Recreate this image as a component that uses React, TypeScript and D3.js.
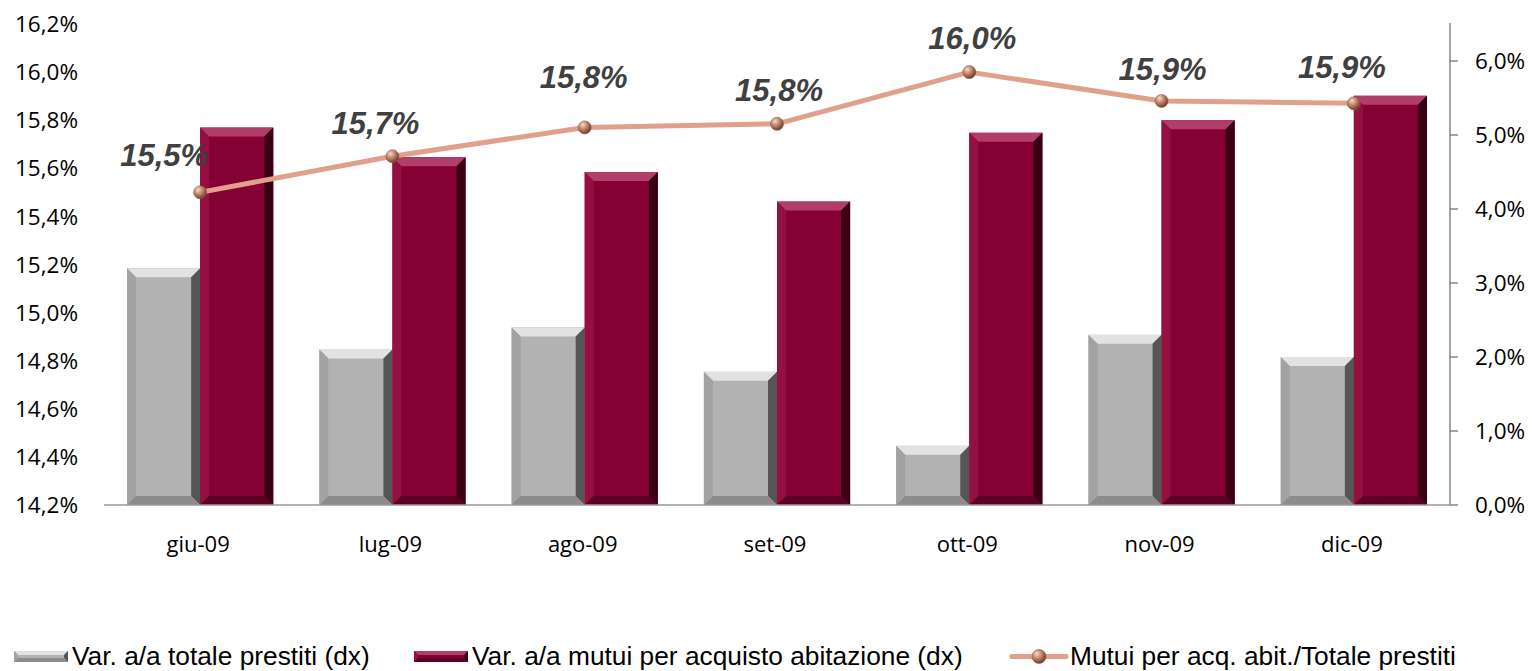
import React from 'react';
import * as d3 from 'd3';

// chart data
const months = ['giu-09', 'lug-09', 'ago-09', 'set-09', 'ott-09', 'nov-09', 'dic-09'];
const totalePrestiti = [3.2, 2.1, 2.4, 1.8, 0.8, 2.3, 2.0];
const mutuiAbitazione = [5.1, 4.7, 4.5, 4.1, 5.03, 5.2, 5.53];
const quotaMutui = [15.5, 15.65, 15.77, 15.785, 16.0, 15.88, 15.87];
const quotaLabels = ['15,5%', '15,7%', '15,8%', '15,8%', '16,0%', '15,9%', '15,9%'];
const leftTicks = [14.2, 14.4, 14.6, 14.8, 15.0, 15.2, 15.4, 15.6, 15.8, 16.0, 16.2];
const rightTicks = [0, 1, 2, 3, 4, 5, 6];
const seriesNames = [
    'Var. a/a totale prestiti (dx)',
    'Var. a/a mutui per acquisto abitazione (dx)',
    'Mutui per acq. abit./Totale prestiti',
];

const W = 1532, H = 671;
const margin = { top: 24, right: 82, bottom: 166, left: 104 };

const fmt = (v: number, d: number) => v.toFixed(d).replace('.', ',') + '%';

// label nudges (dx, dy) for the line data labels, as placed by hand in the original
const labelNudge = [[-36, -26], [-17, -22], [-1, -39], [2, -23], [3, -23], [1, -21], [-12, -25]];

const palettes = {
    gray: { face: '#b2b2b2', top: '#e2e2e2', left: '#a2a2a2', right: '#555555', bottom: '#8c8c8c' },
    red: { face: '#850033', top: '#b03e68', left: '#931040', right: '#3a0014', bottom: '#5e0024' },
};

const BevelBar = ({ x, y, w, h, pal, b = 9 }) => {
    const bb = Math.min(b, h / 2, w / 2);
    const x2 = x + w, y2 = y + h;
    return (
        <g>
            <rect x={x} y={y} width={w} height={h} fill={pal.face} />
            <polygon points={`${x},${y} ${x2},${y} ${x2 - bb},${y + bb} ${x + bb},${y + bb}`} fill={pal.top} />
            <polygon points={`${x},${y} ${x + bb},${y + bb} ${x + bb},${y2 - bb} ${x},${y2}`} fill={pal.left} />
            <polygon points={`${x2},${y} ${x2},${y2} ${x2 - bb},${y2 - bb} ${x2 - bb},${y + bb}`} fill={pal.right} />
            <polygon points={`${x},${y2} ${x + bb},${y2 - bb} ${x2 - bb},${y2 - bb} ${x2},${y2}`} fill={pal.bottom} />
        </g>
    );
};

const Marker = ({ cx, cy, r = 6.5 }) => (
    <circle cx={cx} cy={cy} r={r} fill="url(#ballGrad)" stroke="#8a5a48" strokeWidth={0.6} />
);

export default function App() {
    const x0 = margin.left, x1 = W - margin.right;
    const y0 = H - margin.bottom, y1 = margin.top;

    const xBand = d3.scaleBand().domain(months).range([x0, x1]).paddingInner(0).paddingOuter(0);
    const inner = d3.scaleBand().domain(['a', 'b']).range([0, xBand.bandwidth()]).paddingInner(0).paddingOuter(0.315);
    const yLeft = d3.scaleLinear().domain([14.2, 16.2]).range([y0, y1]);
    const yRight = d3.scaleLinear().domain([0, 6.5]).range([y0, y1]);

    const center = (m) => xBand(m) + xBand.bandwidth() / 2;
    const linePath = d3.line<number>()
        .x((_, i) => center(months[i]))
        .y((d) => yLeft(d))(quotaMutui);

    const axisFont = '"Open Sans", "Noto Sans", sans-serif';
    const arial = '"Liberation Sans", Arial, sans-serif';

    return (
        <svg width={W} height={H} style={{ position: 'absolute', left: 0, top: 0, background: '#fff' }}>
            <defs>
                <radialGradient id="ballGrad" cx="35%" cy="30%" r="70%">
                    <stop offset="0%" stopColor="#f6d8c8" />
                    <stop offset="45%" stopColor="#c98a6e" />
                    <stop offset="100%" stopColor="#6e3f2c" />
                </radialGradient>
            </defs>

            {/* left axis labels */}
            {leftTicks.map((t) => (
                <text key={'l' + t} x={78} y={yLeft(t)} dy="0.36em" textAnchor="end"
                    fontFamily={axisFont} fontSize={22.5} fill="#000">{fmt(t, 1)}</text>
            ))}

            {/* right axis */}
            <line x1={x1} x2={x1} y1={y1 - 1} y2={y0} stroke="#888" strokeWidth={1.5} />
            {rightTicks.map((t) => (
                <g key={'r' + t}>
                    <line x1={x1} x2={x1 + 8} y1={yRight(t)} y2={yRight(t)} stroke="#888" strokeWidth={1.5} />
                    <text x={1475} y={yRight(t)} dy="0.36em" textAnchor="start"
                        fontFamily={axisFont} fontSize={22.5} fill="#000">{fmt(t, 1)}</text>
                </g>
            ))}

            {/* bars */}
            {months.map((m, i) => {
                const bx = xBand(m);
                return (
                    <g key={m}>
                        <BevelBar x={bx + inner('a')} y={yRight(totalePrestiti[i])} w={inner.bandwidth()}
                            h={y0 - yRight(totalePrestiti[i])} pal={palettes.gray} />
                        <BevelBar x={bx + inner('b')} y={yRight(mutuiAbitazione[i])} w={inner.bandwidth()}
                            h={y0 - yRight(mutuiAbitazione[i])} pal={palettes.red} />
                    </g>
                );
            })}

            {/* category axis baseline */}
            <line x1={x0} x2={x1} y1={y0} y2={y0} stroke="#999" strokeWidth={1.5} />
            {months.map((m) => (
                <text key={'x' + m} x={center(m) - 2} y={552} textAnchor="middle"
                    fontFamily={axisFont} fontSize={22} fill="#000">{m}</text>
            ))}

            {/* line series */}
            <path d={linePath} fill="none" stroke="#e0a08b" strokeWidth={5} strokeLinejoin="round" />
            {quotaMutui.map((v, i) => (
                <Marker key={'mk' + i} cx={center(months[i])} cy={yLeft(v)} />
            ))}
            {quotaMutui.map((v, i) => (
                <text key={'lb' + i} x={center(months[i]) + labelNudge[i][0]} y={yLeft(v) + labelNudge[i][1]}
                    textAnchor="middle" fontFamily={arial} fontSize={31} fontWeight="bold" fontStyle="italic"
                    fill="#404040">{quotaLabels[i]}</text>
            ))}

            {/* legend */}
            <g fontFamily={arial} fontSize={26.3} fill="#000">
                <BevelBar x={14} y={651} w={54} h={11} pal={palettes.gray} b={4} />
                <text x={72} y={665}>{seriesNames[0]}</text>
                <BevelBar x={414} y={651} w={54} h={11} pal={palettes.red} b={4} />
                <text x={472} y={665}>{seriesNames[1]}</text>
                <line x1={1012} x2={1066} y1={656.5} y2={656.5} stroke="#e0a08b" strokeWidth={5} strokeLinecap="round" />
                <Marker cx={1039} cy={656.5} r={7} />
                <text x={1070} y={665}>{seriesNames[2]}</text>
            </g>
        </svg>
    );
}
